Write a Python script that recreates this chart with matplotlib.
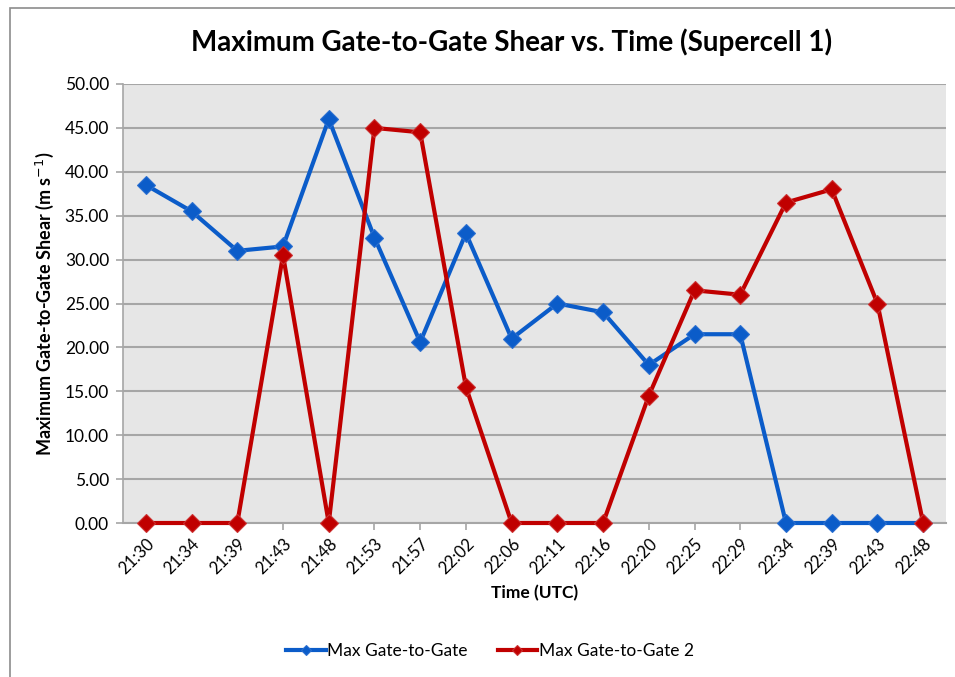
import matplotlib
matplotlib.use("Agg")
import matplotlib.pyplot as plt
from matplotlib.patches import Rectangle

times = ["21:30", "21:34", "21:39", "21:43", "21:48", "21:53", "21:57", "22:02", "22:06",
         "22:11", "22:16", "22:20", "22:25", "22:29", "22:34", "22:39", "22:43", "22:48"]
series1 = [38.5, 35.5, 31.0, 31.5, 46.0, 32.5, 20.6, 33.0, 21.0,
           25.0, 24.0, 18.0, 21.5, 21.5, 0.0, 0.0, 0.0, 0.0]
series2 = [0.0, 0.0, 0.0, 30.5, 0.0, 45.0, 44.5, 15.5, 0.0,
           0.0, 0.0, 14.5, 26.5, 26.0, 36.5, 38.0, 25.0, 0.0]
yticks = [0, 5, 10, 15, 20, 25, 30, 35, 40, 45, 50]

plt.rcParams['font.family'] = ['Lato', 'DejaVu Sans']

fig = plt.figure(figsize=(9.55, 6.77), dpi=100)
fig.patch.set_facecolor('white')
fig.add_artist(Rectangle((10/955, -0.05), 1.2, 1.05 - 8/677, transform=fig.transFigure,
                         fill=False, edgecolor='#8c8c8c', linewidth=1.2))

ax = fig.add_axes([123/955, 1-523/677, (946-123)/955, (523-84)/677])
ax.set_facecolor('#E6E6E6')
x = list(range(len(times)))
blue = '#0B5CC9'
red = '#C00000'
ax.plot(x, series1, color=blue, lw=3, marker='D', ms=9, mec='#2a6fd0', mew=0.8,
        label='Max Gate-to-Gate', zorder=3, clip_on=False)
ax.plot(x, series2, color=red, lw=3, marker='D', ms=9, mec='#cc3030', mew=0.8,
        label='Max Gate-to-Gate 2', zorder=3, clip_on=False)

ax.set_xlim(-0.5, len(times)-0.5)
ax.set_ylim(0, 50)
ax.set_yticks(yticks)
ax.set_yticklabels([f"{v:.2f}" for v in yticks], fontsize=12.5)
ax.set_xticks(x)
ax.set_xticklabels(times, rotation=45, ha='right', rotation_mode='anchor', fontsize=12)
ax.yaxis.grid(True, color='#A6A6A6', lw=1.5)
ax.set_axisbelow(True)
for s in ['top', 'right']:
    ax.spines[s].set_visible(False)
ax.spines['left'].set_color('#A6A6A6')
ax.spines['bottom'].set_color('#A6A6A6')
ax.spines['left'].set_linewidth(1.2)
ax.spines['bottom'].set_linewidth(1.5)
ax.tick_params(axis='both', color='#A6A6A6', length=5, width=1.2)
ax.tick_params(axis='y', pad=5)
ax.tick_params(axis='x', pad=4)

fig.text(512/955, 1-42/677, "Maximum Gate-to-Gate Shear vs. Time (Supercell 1)",
         fontsize=20, fontweight='bold', ha='center', va='center')
ax.set_ylabel("Maximum Gate-to-Gate Shear (m s$^{-1}$)", fontsize=13, fontweight='bold',
              labelpad=6)
ax.set_xlabel("Time (UTC)", fontsize=12.5, fontweight='bold', labelpad=6)

leg = fig.legend(loc='center', bbox_to_anchor=(490/955, 1-651/677), ncol=2, frameon=False,
                 fontsize=12.5, handlelength=2.3, columnspacing=1.7, handletextpad=0.1,
                 markerscale=0.6)

fig.savefig("out.png", dpi=100)
